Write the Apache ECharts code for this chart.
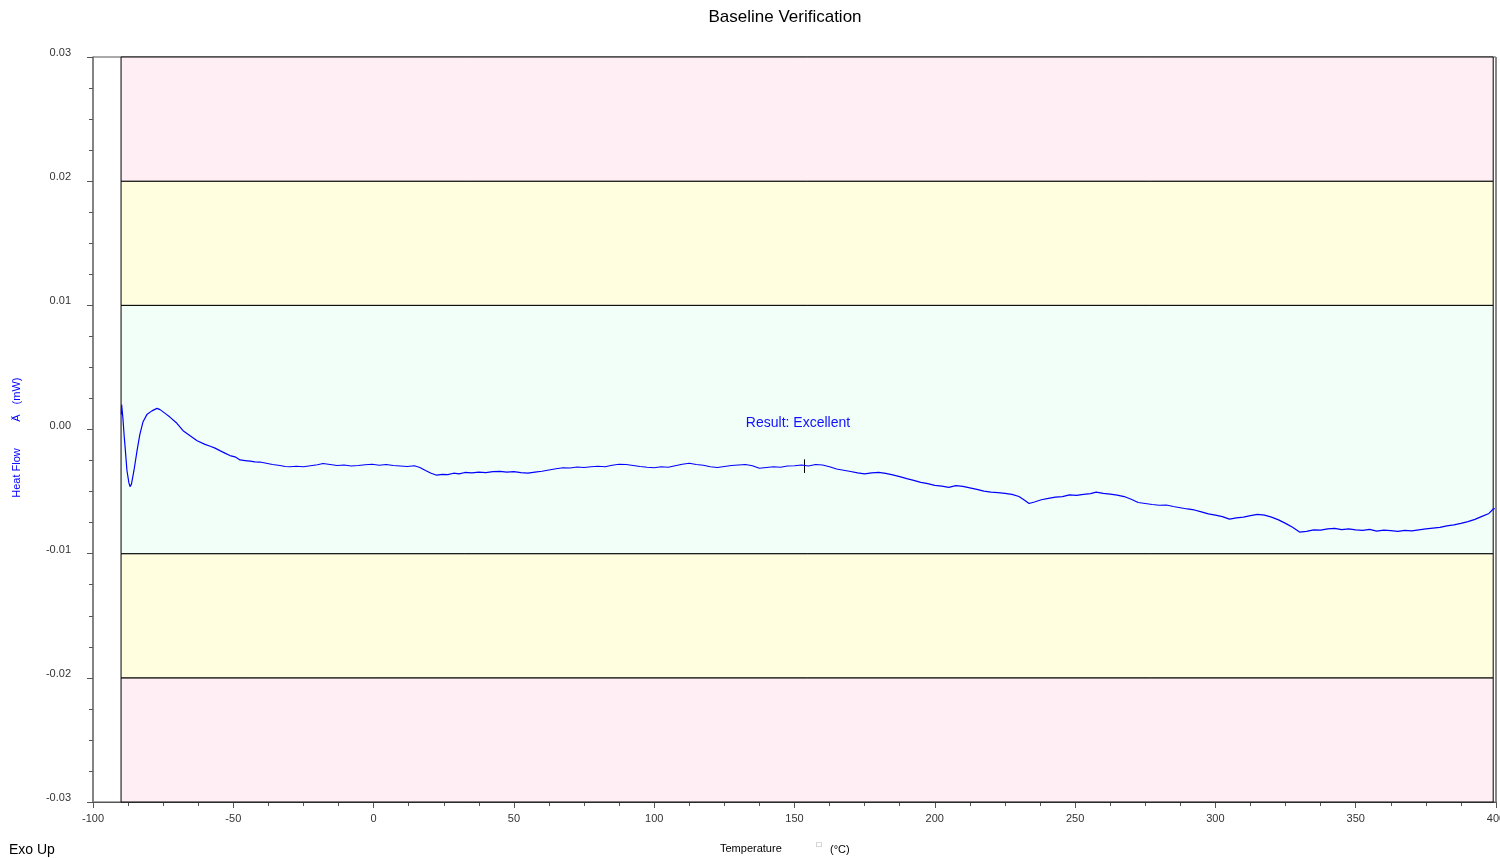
<!DOCTYPE html>
<html><head><meta charset="utf-8">
<script src="https://cdn.jsdelivr.net/npm/echarts@6/dist/echarts.min.js"></script>
<style>html,body{margin:0;padding:0;background:#fff}#c{width:1500px;height:858px}</style>
</head><body><div id="c"></div>
<script>
const titleText = 'Baseline Verification';
const resultText = 'Result: Excellent';
const xTicks = [-100, -50, 0, 50, 100, 150, 200, 250, 300, 350, 400];
const yTicks = [-0.03, -0.02, -0.01, 0.00, 0.01, 0.02, 0.03];
const bandLimits = [-0.03, -0.02, -0.01, 0.01, 0.02, 0.03];
const bandColors = ['#FFEFF4', '#FFFEDF', '#F2FFF8', '#FFFEDF', '#FFEFF4'];
const bandX = [-90, 399];
const markerTemp = 153.4;
const markerRange = [-0.0024, -0.0035];

const temps = [-89.9,-89.8,-89.6,-89.3,-88.9,-88.6,-87.9,-87.2,-86.8,-86.3,-85.4,-84.3,-83.3,-82.2,-80.8,-79.0,-77.2,-76.1,-74.3,-72.6,-70.1,-67.9,-65.4,-62.9,-60.1,-58.2,-56.5,-54.8,-53.0,-51.2,-49.4,-47.6,-45.8,-44.0,-42.3,-40.5,-38.7,-36.0,-33.4,-31.5,-29.8,-27.5,-25.0,-22.5,-20.0,-18.0,-15.5,-13.0,-10.5,-8.0,-5.5,-3.0,-0.5,2.0,4.5,7.0,9.5,12.0,14.5,16.5,18.5,20.5,22.5,24.5,26.5,28.5,30.5,32.5,35.0,37.5,40.0,42.5,45.0,47.5,50.0,52.5,55.0,57.5,60.0,62.5,65.0,67.5,70.0,72.5,75.0,77.5,80.0,82.5,85.0,87.5,90.0,92.5,95.0,97.5,100.0,102.5,105.0,107.5,110.0,112.5,115.0,117.5,120.0,122.5,125.0,127.5,130.0,132.5,135.0,137.5,140.0,142.5,145.0,147.5,150.0,152.5,155.0,157.5,160.0,162.5,165.0,167.5,170.0,172.5,175.0,177.5,180.0,182.5,185.0,187.5,190.0,192.5,195.0,197.5,200.0,202.5,205.0,207.5,210.0,212.5,215.0,217.5,220.0,222.5,225.0,227.5,230.0,232.0,233.6,235.5,238.0,240.5,243.0,245.5,248.0,250.5,253.0,255.5,257.5,260.0,262.5,265.0,267.5,270.0,272.5,275.0,277.5,280.0,282.5,285.0,287.5,290.0,292.5,295.0,297.5,300.0,302.5,305.0,307.5,310.0,312.5,315.0,317.5,320.0,322.5,325.0,327.5,330.0,332.5,335.0,337.5,340.0,342.5,345.0,347.5,350.0,352.5,355.0,357.5,360.0,362.5,365.0,367.5,370.0,372.5,375.0,377.5,380.0,382.5,385.0,387.5,390.0,392.5,395.0,397.5,399.0,400.0];
const heatFlow = [0.0012,0.0020,0.0019,0.0008,-0.0005,-0.0013,-0.0033,-0.0043,-0.0046,-0.0044,-0.0033,-0.0017,-0.0004,0.0006,0.0012,0.0015,0.0017,0.0016,0.0013,0.0010,0.0005,-0.0001,-0.0005,-0.0009,-0.0012,-0.00135,-0.0015,-0.0017,-0.0019,-0.0021,-0.0022,-0.00245,-0.0025,-0.00255,-0.0026,-0.00262,-0.0027,-0.00282,-0.0029,-0.00298,-0.0030,-0.00296,-0.00300,-0.00292,-0.00284,-0.00274,-0.00282,-0.00290,-0.00286,-0.00294,-0.00290,-0.00284,-0.00280,-0.00288,-0.00282,-0.00290,-0.00294,-0.00298,-0.00292,-0.00306,-0.00330,-0.00352,-0.00368,-0.00362,-0.00364,-0.00352,-0.00358,-0.00346,-0.00350,-0.00344,-0.00348,-0.00340,-0.00338,-0.00344,-0.00340,-0.00348,-0.00352,-0.00344,-0.00336,-0.00326,-0.00316,-0.00308,-0.00310,-0.00302,-0.00306,-0.00300,-0.00296,-0.00300,-0.00288,-0.00280,-0.00282,-0.00290,-0.00298,-0.00304,-0.00308,-0.00300,-0.00304,-0.00292,-0.00280,-0.00272,-0.00282,-0.00288,-0.00300,-0.00306,-0.00298,-0.00290,-0.00286,-0.00282,-0.00292,-0.00312,-0.00306,-0.00300,-0.00304,-0.00294,-0.00292,-0.00286,-0.00294,-0.00282,-0.00286,-0.00300,-0.00318,-0.00328,-0.00338,-0.00350,-0.00358,-0.00350,-0.00346,-0.00354,-0.00366,-0.00380,-0.00396,-0.00410,-0.00426,-0.00436,-0.00450,-0.00456,-0.00466,-0.00452,-0.00458,-0.00470,-0.00482,-0.00496,-0.00504,-0.00508,-0.00514,-0.00522,-0.00540,-0.00570,-0.00596,-0.00584,-0.00566,-0.00554,-0.00544,-0.00540,-0.00526,-0.00530,-0.00522,-0.00516,-0.00504,-0.00514,-0.00520,-0.00528,-0.00540,-0.00562,-0.00588,-0.00596,-0.00604,-0.00610,-0.00608,-0.00620,-0.00630,-0.00640,-0.00648,-0.00664,-0.00680,-0.00690,-0.00702,-0.00722,-0.00712,-0.00706,-0.00694,-0.00684,-0.00690,-0.00706,-0.00728,-0.00756,-0.00788,-0.00826,-0.00820,-0.00808,-0.00810,-0.00800,-0.00796,-0.00806,-0.00800,-0.00808,-0.00812,-0.00804,-0.00818,-0.00810,-0.00814,-0.00820,-0.00812,-0.00816,-0.00808,-0.00800,-0.00794,-0.00788,-0.00776,-0.00768,-0.00756,-0.00742,-0.00724,-0.00700,-0.00676,-0.00640,-0.00636];

const FONT = '"Liberation Sans", Arial, sans-serif';
const chart = echarts.init(document.getElementById('c'), null, {renderer: 'canvas'});
const bands = [];
for (let i = 0; i < bandColors.length; i++) {
  bands.push([
    {xAxis: bandX[0], yAxis: bandLimits[i], itemStyle: {color: bandColors[i], borderColor: '#000', borderWidth: 1}},
    {xAxis: bandX[1], yAxis: bandLimits[i + 1]}
  ]);
}
const data = temps.map((t, i) => [t, heatFlow[i]]);

chart.setOption({
  animation: false,
  backgroundColor: '#fff',
  grid: {left: 93, right: 4, top: 57, bottom: 56, containLabel: false, outerBoundsMode: 'none',
    show: true, borderColor: '#555', borderWidth: 1, backgroundColor: 'transparent'},
  xAxis: {
    type: 'value', min: xTicks[0], max: xTicks[xTicks.length - 1], interval: 50,
    axisLine: {show: true, onZero: false, lineStyle: {color: '#555', width: 1}},
    axisTick: {show: true, length: 6, lineStyle: {color: '#555'}},
    minorTick: {show: true, splitNumber: 4, length: 4, lineStyle: {color: '#555'}},
    splitLine: {show: false},
    axisLabel: {margin: 11, fontSize: 11, color: '#333', fontFamily: FONT, formatter: v => String(v)}
  },
  yAxis: {
    type: 'value', min: yTicks[0], max: yTicks[yTicks.length - 1], interval: 0.01,
    axisLine: {show: true, onZero: false, lineStyle: {color: '#777', width: 1.5}},
    axisTick: {show: true, length: 6, lineStyle: {color: '#555'}},
    minorTick: {show: true, splitNumber: 4, length: 4, lineStyle: {color: '#555'}},
    splitLine: {show: false},
    axisLabel: {margin: 22, fontSize: 11, color: '#333', fontFamily: FONT, verticalAlign: 'bottom', lineHeight: 8,
      formatter: v => (Math.abs(v) < 1e-9 ? 0 : v).toFixed(2)}
  },
  series: [{
    type: 'line', data: data, showSymbol: false, symbol: 'none',
    lineStyle: {color: '#0000FF', width: 1.2},
    z: 5,
    markArea: {silent: true, data: bands, z: 1},
    markLine: {
      silent: true, symbol: 'none', label: {show: false},
      lineStyle: {color: '#000', width: 1, type: 'solid'},
      data: [[{coord: [markerTemp, markerRange[0]]}, {coord: [markerTemp, markerRange[1]]}]]
    }
  }],
  graphic: [
    {type: 'line', silent: true, z: 10, shape: {x1: 1496, y1: 57, x2: 1496, y2: 802}, style: {stroke: '#888', lineWidth: 2}},
    {type: 'text', x: 785, y: 17, style: {text: titleText, font: '17px ' + FONT, fill: '#000', textAlign: 'center', textVerticalAlign: 'middle'}},
    {type: 'text', x: 798, y: 423, z: 10, style: {text: resultText, font: '14px ' + FONT, fill: '#1010FF', textAlign: 'center', textVerticalAlign: 'middle'}},
    {type: 'text', x: 9, y: 850, style: {text: 'Exo Up', font: '14px ' + FONT, fill: '#000', textAlign: 'left', textVerticalAlign: 'middle'}},
    {type: 'text', x: 720, y: 849, style: {text: 'Temperature', font: '11px ' + FONT, fill: '#000', textAlign: 'left', textVerticalAlign: 'middle'}},
    {type: 'text', x: 819, y: 845, style: {text: '□', font: '8px ' + FONT, fill: '#777', textAlign: 'center', textVerticalAlign: 'middle'}},
    {type: 'text', x: 830, y: 850, style: {text: '(°C)', font: '11px ' + FONT, fill: '#000', textAlign: 'left', textVerticalAlign: 'middle'}},
    {type: 'text', x: 17, y: 473, rotation: Math.PI / 2, style: {text: 'Heat Flow', font: '11px ' + FONT, fill: '#0000FF', textAlign: 'center', textVerticalAlign: 'middle'}},
    {type: 'text', x: 17, y: 418, rotation: Math.PI / 2, style: {text: 'Ä', font: '11px ' + FONT, fill: '#0000FF', textAlign: 'center', textVerticalAlign: 'middle'}},
    {type: 'text', x: 17, y: 391, rotation: Math.PI / 2, style: {text: '(mW)', font: '11px ' + FONT, fill: '#0000FF', textAlign: 'center', textVerticalAlign: 'middle'}}
  ]
});
</script></body></html>
